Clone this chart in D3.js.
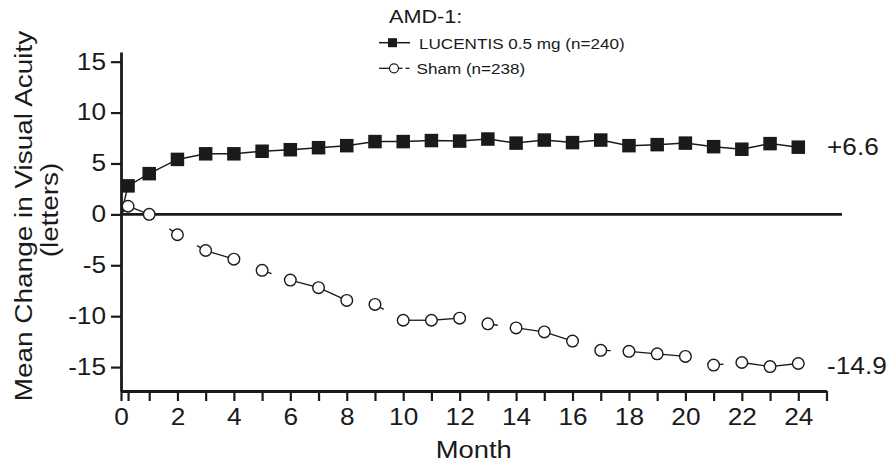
<!DOCTYPE html>
<html><head><meta charset="utf-8">
<script src="https://cdn.jsdelivr.net/npm/d3@7"></script>
<style>
body{margin:0;background:#fff}
svg{display:block}
text{font-family:"Liberation Sans",Arial,Helvetica,sans-serif;fill:#1a1a1a}
</style>
</head><body><svg id="chart" width="896" height="463"></svg>
<script>
// ---------- data ----------
const months   = [0, 0.25, 1, 2, 3, 4, 5, 6, 7, 8, 9, 10, 11, 12, 13, 14, 15, 16, 17, 18, 19, 20, 21, 22, 23, 24];
const lucentis = [0, 2.8, 4.0, 5.4, 5.95, 5.95, 6.2, 6.35, 6.55, 6.75, 7.15, 7.15, 7.25, 7.2, 7.4, 7.0, 7.3, 7.05, 7.3, 6.75, 6.85, 7.0, 6.65, 6.4, 6.95, 6.6];
const sham     = [0, 0.8, 0.0, -2.0, -3.55, -4.4, -5.5, -6.45, -7.2, -8.45, -8.85, -10.4, -10.4, -10.2, -10.75, -11.15, -11.55, -12.45, -13.35, -13.45, -13.7, -13.95, -14.8, -14.55, -14.95, -14.65];
const seriesNames = ["LUCENTIS 0.5 mg (n=240)", "Sham (n=238)"];
const legendTitle = "AMD-1:";
const endLabels = ["+6.6", "-14.9"];
const endValues = [6.6, -14.9];
const yTicks = [-15, -10, -5, 0, 5, 10, 15];
const xTicks = [0, 0.25, 1, 2, 3, 4, 5, 6, 7, 8, 9, 10, 11, 12, 13, 14, 15, 16, 17, 18, 19, 20, 21, 22, 23, 24, 25];
const xTickLabels = [0, 2, 4, 6, 8, 10, 12, 14, 16, 18, 20, 22, 24];
const xTitle = "Month";
const yTitle = ["Mean Change in Visual Acuity", "(letters)"];

// ---------- style ----------
const INK = "#1a1a1a";
const SX = 1.14; // horizontal font widening
// dash pattern of the Sham line, one entry per segment between consecutive points
const shamSegmentStyle = ["solid","solid","end","end","solid","none","start","solid","solid","none","start",
  "solid","solid","none","start","solid","solid","none","start","solid","solid","none","start","solid","solid"];
const STUB = 10;

const svg = d3.select("#chart");
const x = d3.scaleLinear().domain([0, 25]).range([121, 826.5]);
const y = d3.scaleLinear().domain([-17.35, 15.95]).range([391, 52]);

// zero reference line
svg.append("line")
  .attr("x1", x(0)).attr("x2", x(25.55))
  .attr("y1", y(0)).attr("y2", y(0))
  .attr("stroke", INK).attr("stroke-width", 2.6);

// x axis
const xAxis = svg.append("g")
  .attr("transform", `translate(0,${y.range()[0]})`)
  .call(d3.axisBottom(x).tickValues(xTicks).tickSize(10).tickSizeOuter(0).tickPadding(8)
    .tickFormat(d => xTickLabels.includes(d) ? String(d) : ""));
xAxis.select(".domain").attr("stroke", INK).attr("stroke-width", 2.8);
xAxis.selectAll(".tick line").attr("stroke", INK).attr("stroke-width", 2.2);
xAxis.selectAll(".tick text").attr("font-size", 23).attr("fill", INK)
  .attr("transform", `scale(${SX},1)`).style("font-family", '"Liberation Sans",Arial,sans-serif');

// y axis
const yAxis = svg.append("g")
  .attr("transform", `translate(${x(0)},0)`)
  .call(d3.axisLeft(y).tickValues(yTicks).tickSize(10).tickSizeOuter(0).tickPadding(5)
    .tickFormat(d => String(d)));
yAxis.select(".domain").attr("stroke", INK).attr("stroke-width", 2.8);
yAxis.selectAll(".tick line").attr("stroke", INK).attr("stroke-width", 2.2);
yAxis.selectAll(".tick text").attr("font-size", 23).attr("fill", INK)
  .attr("x", -15 / SX).attr("transform", `scale(${SX},1)`)
  .style("font-family", '"Liberation Sans",Arial,sans-serif');

// helper for widened text
function wtext(g, tx, ty, str, size, anchor, rot) {
  return g.append("text")
    .attr("transform", `translate(${tx},${ty})` + (rot ? ` rotate(${rot})` : "") + ` scale(${SX},1)`)
    .attr("font-size", size).attr("text-anchor", anchor || "start").text(str);
}

// axis titles
wtext(svg, (x.range()[0] + x.range()[1]) / 2, 458, xTitle, 24, "middle");
wtext(svg, 32, 216, yTitle[0], 24.5, "middle", -90);
wtext(svg, 58, 210, yTitle[1], 24.5, "middle", -90);

// Lucentis line + markers
const luc = months.map((m, i) => ({m, v: lucentis[i]}));
const shm = months.map((m, i) => ({m, v: sham[i]}));
svg.append("path").datum(luc)
  .attr("d", d3.line().x(d => x(d.m)).y(d => y(d.v)))
  .attr("fill", "none").attr("stroke", INK).attr("stroke-width", 1.5);

// Sham segments
const segG = svg.append("g").attr("stroke", INK).attr("stroke-width", 1.3);
shm.slice(0, -1).forEach((d, i) => {
  const mode = shamSegmentStyle[i];
  if (mode === "none") return;
  const e = shm[i + 1];
  const x0 = x(d.m), y0 = y(d.v), x1 = x(e.m), y1 = y(e.v);
  const L = Math.hypot(x1 - x0, y1 - y0), f = Math.min(1, STUB / L);
  let a = [x0, y0], b = [x1, y1];
  if (mode === "start") b = [x0 + (x1 - x0) * f, y0 + (y1 - y0) * f];
  if (mode === "end") a = [x1 - (x1 - x0) * f, y1 - (y1 - y0) * f];
  segG.append("line").attr("x1", a[0]).attr("y1", a[1]).attr("x2", b[0]).attr("y2", b[1]);
});

// markers
svg.append("g").selectAll("circle").data(shm.filter(d => d.m > 0)).join("circle")
  .attr("cx", d => x(d.m)).attr("cy", d => y(d.v)).attr("r", 5.8)
  .attr("fill", "#fff").attr("stroke", INK).attr("stroke-width", 1.4);
const SQ = 13.5;
svg.append("g").selectAll("rect").data(luc.filter(d => d.m > 0)).join("rect")
  .attr("x", d => x(d.m) - SQ / 2).attr("y", d => y(d.v) - SQ / 2)
  .attr("width", SQ).attr("height", SQ).attr("fill", INK);

// end labels
endLabels.forEach((t, i) => {
  wtext(svg, 827, y(endValues[i]) + 8, t, 23, "start");
});

// legend
const lg = svg.append("g");
wtext(lg, 389, 23, legendTitle, 19, "start");
lg.append("line").attr("x1", 379).attr("x2", 410).attr("y1", 42.7).attr("y2", 42.7)
  .attr("stroke", INK).attr("stroke-width", 1.5);
lg.append("rect").attr("x", 392.5 - 4.5).attr("y", 42.7 - 4.5).attr("width", 9).attr("height", 9).attr("fill", INK);
wtext(lg, 419, 49, seriesNames[0], 15, "start");
lg.append("line").attr("x1", 379).attr("x2", 402.5).attr("y1", 68.3).attr("y2", 68.3)
  .attr("stroke", INK).attr("stroke-width", 1.3);
lg.append("line").attr("x1", 405.5).attr("x2", 409.5).attr("y1", 68.3).attr("y2", 68.3)
  .attr("stroke", INK).attr("stroke-width", 1.3);
lg.append("circle").attr("cx", 394).attr("cy", 68.3).attr("r", 4.5)
  .attr("fill", "#fff").attr("stroke", INK).attr("stroke-width", 1.2);
wtext(lg, 416.5, 73.5, seriesNames[1], 15, "start");
</script>
</body></html>
